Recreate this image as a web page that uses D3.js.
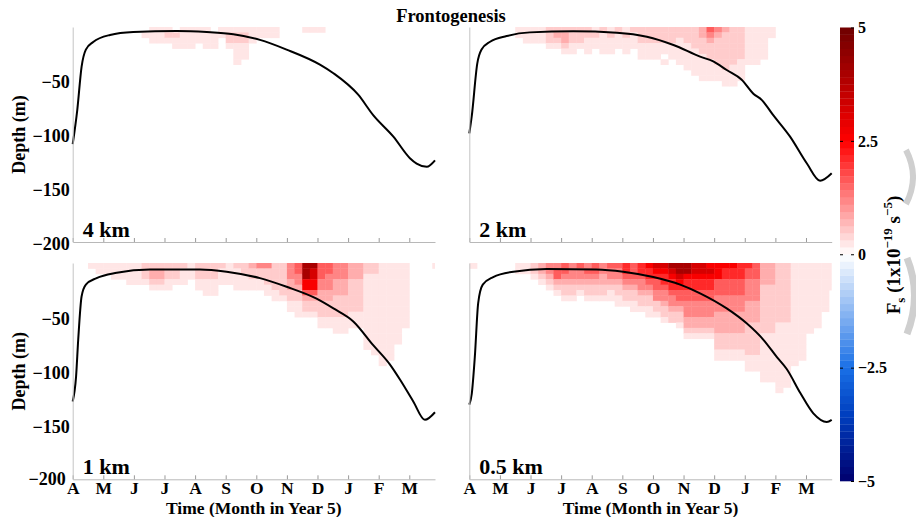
<!DOCTYPE html>
<html>
<head>
<meta charset="utf-8">
<script src="https://cdn.jsdelivr.net/npm/d3@7"></script>
<style>
body { margin: 0; background: #fff; }
svg text { font-family: "Liberation Serif", "Times New Roman", serif; font-weight: bold; fill: #000; }
</style>
</head>
<body>
<div id="fig"></div>
<script>
// ---- data ----
var monthLabels = ["A","M","J","J","A","S","O","N","D","J","F","M"];
var depthTicks = [-50, -100, -150, -200];
var cbarTicks = [5, 2.5, 0, -2.5, -5];
var panelNames = ["4 km", "2 km", "1 km", "0.5 km"];
// colour level of each character in the heat strings (x1e-19 s^-5)
var levelValues = [0, 0.25, 0.5, 0.8, 1.2, 1.6, 2.1, 2.6, 3.2, 4.0];
var cellMonths = 0.25;   // heat column width, months
var cellDepth = 5;       // heat row height, m

// mixed layer depth, time in months since 1 April
var mldTime4 = [0, 0.15, 0.29, 0.43, 0.67, 1.22, 1.98, 3.4, 4.38, 5.25, 6.12, 6.99, 8.08, 8.52, 9.33, 9.82, 10.48, 11.02, 11.24, 11.57, 11.84];
var mldDepth4 = [-109, -77, -37, -21, -14, -7.4, -4.7, -3.7, -4.7, -6.8, -12, -21, -35, -43, -63, -82, -102, -122, -127, -130, -124];
var mldTime2 = [0, 0.08, 0.26, 0.4, 0.68, 1.22, 1.98, 3.4, 4.82, 5.8, 6.67, 7.54, 7.97, 8.41, 8.9, 9.28, 9.56, 9.93, 10.48, 11.03, 11.46, 11.84];
var mldDepth2 = [-99, -83, -34, -21, -13.7, -8.4, -5, -4, -5.3, -9, -16.7, -27.6, -32, -40, -49, -62, -68, -82, -102, -127, -143, -136];
var mldTime1 = [0, 0.11, 0.18, 0.29, 0.43, 0.78, 1.44, 2.53, 4.16, 5.03, 6.12, 6.99, 7.97, 8.52, 9.17, 9.82, 10.37, 10.7, 11.13, 11.51, 11.84];
var mldDepth1 = [-128, -105, -71, -31, -20, -14, -9, -5.9, -5.9, -8, -14, -22, -33, -42, -54, -76, -94, -108, -128, -145, -138];
var mldTime05 = [0, 0.08, 0.18, 0.29, 0.44, 0.78, 1.44, 2.53, 4.16, 5.03, 6.01, 6.89, 7.54, 8.41, 9.07, 9.61, 10.05, 10.37, 10.81, 11.24, 11.68, 11.84];
var mldDepth05 = [-131, -121, -87, -37, -20, -13, -8, -5.6, -5.9, -8, -13, -20, -28, -42, -56, -71, -87, -98, -120, -139, -147, -145];

// frontogenesis, one string per quarter month column, one char per 5 m from the surface down
var heat4 = [
 "","","","",  "","","","",  "","01","111","111",  "121","0211","1111","1111",
 "111","1111","0111","11",  "1221","1221111","122111","111",  "11","11","11","",
 "","","1","1",  "1","","","",  "","","","",  "","","","",  "","","",""];
var heat2 = [
 "","","","",  "","","11","111",  "111","111","2221","2321",  "23321","22211","2221","22111",
 "1211","21111","12111","2111",  "12111","2111","222111","222111",  "222111","2221101","222111","2211111",
 "22211111","222211111","3322211111","5432221111",  "4322222111","32222222111","22222221111","2222221111",
 "1111111","1111111","111111","11",  "","","","",  "","","",""];
var heat1 = [
 "","","1","11",  "11","111","111","1111",  "1111","2221","23321","23321",  "22211","2221","2111","111",
 "22211","222111","222111","2111",  "1111","21111","22111","32211",  "42211","422211","2222211","2222221",
 "444332211","5544322111","9997753221","9887753221",  "555443322211","554443322211","4443332222111","4443332222111",
 "333222222111","333222222111","2211111111111111","22111111111111111",
 "1111111111111111111","111111111111111111","111111111111111","111111111111",  "","","","1"];
var heat05 = [
 "1","","","",  "","","11","11",  "221","3321","44321","455321",  "5543221","4443221","544321","4543221",
 "5543221","4433221","5443211","54432211",  "66543221","555432211","665443221","7665432211",
 "8765544221","87665443221","98766544322","998765543221",
 "99766554443321","88766554443321","88766554443321","78766554443321",
 "777555444333322211","766555444333322211","766555444333322211","666555444333322211",
 "65544443333222222111","55544443333222222111","3333222222222111111111","3333222222222111111111",
 "222222222221111111111111","22222222222111111111111","1111111111111111111","111111111111111111",
 "1111111111111","111111111111","111111111","11111"];

var heatData = [heat4, heat2, heat1, heat05];
var mldData = [[mldTime4, mldDepth4], [mldTime2, mldDepth2], [mldTime1, mldDepth1], [mldTime05, mldDepth05]];

// ---- layout ----
var W = 916, H = 517;
var panelBox = [
  {x0: 72.7, x1: 435, y0: 27, y1: 242, left: true, bottom: false},
  {x0: 469.3, x1: 831.7, y0: 27, y1: 242, left: false, bottom: false},
  {x0: 72.7, x1: 435, y0: 263, y1: 479.3, left: true, bottom: true},
  {x0: 469.3, x1: 831.7, y0: 263, y1: 479.3, left: false, bottom: true}];

var color = d3.scaleLinear()
  .domain([-5, -3.5, -2.5, 0, 2.5, 5])
  .range(["#00006e", "#0040c0", "#1a70e6", "#ffffff", "#ff0000", "#6e0000"])
  .clamp(true);

var minusFmt = function(d) { return String(d).replace("-", "\u2212"); };

var svg = d3.select("#fig").append("svg")
  .attr("width", W)
  .attr("height", H);

svg.append("text")
  .attr("x", 451).attr("y", 22)
  .attr("text-anchor", "middle")
  .style("font-size", "18.5px")
  .text("Frontogenesis");

panelBox.forEach(function(b, i) {
  var x = d3.scaleLinear().domain([0, 11.84]).range([b.x0, b.x1]);
  var y = d3.scaleLinear().domain([-200, 0]).range([b.y1, b.y0]);
  var g = svg.append("g");

  g.append("clipPath").attr("id", "clip" + i)
    .append("rect")
    .attr("x", b.x0).attr("y", b.y0)
    .attr("width", b.x1 - b.x0).attr("height", b.y1 - b.y0);

  // heat cells
  var cells = [];
  heatData[i].forEach(function(col, c) {
    for (var k = 0; k < col.length; k++) {
      var lev = +col[k];
      if (lev > 0) cells.push({t: c * cellMonths, d: -k * cellDepth, v: levelValues[lev]});
    }
  });
  g.append("g").attr("clip-path", "url(#clip" + i + ")")
    .selectAll("rect").data(cells).enter().append("rect")
    .attr("x", function(d) { return x(d.t); })
    .attr("y", function(d) { return y(d.d); })
    .attr("width", function(d) { return x(d.t + cellMonths) - x(d.t) + 0.4; })
    .attr("height", function(d) { return y(d.d - cellDepth) - y(d.d) + 0.4; })
    .attr("fill", function(d) { return color(d.v); });

  // mixed layer depth
  var pts = d3.zip(mldData[i][0], mldData[i][1]);
  var line = d3.line()
    .x(function(d) { return x(d[0]); })
    .y(function(d) { return y(d[1]); })
    .curve(d3.curveMonotoneX);
  g.append("path").datum(pts)
    .attr("d", line)
    .attr("fill", "none")
    .attr("stroke", "#000")
    .attr("stroke-width", 2);

  // bottom axis
  var xAxis = d3.axisBottom(x)
    .tickValues(d3.range(12))
    .tickSizeInner(-4).tickSizeOuter(0).tickPadding(2)
    .tickFormat(function(d, j) { return b.bottom ? monthLabels[j] : ""; });
  var gx = g.append("g").attr("transform", "translate(0," + b.y1 + ")").call(xAxis);
  gx.select(".domain").attr("stroke", "#b8b8b8");
  gx.selectAll(".tick line").attr("stroke", "#9a9a9a");
  gx.selectAll(".tick text").style("font-size", "17.5px").style("font-family", null);

  // left axis
  var yAxis = d3.axisLeft(y)
    .tickValues(b.left ? depthTicks : [])
    .tickFormat(minusFmt)
    .tickSize(0).tickPadding(3);
  var gy = g.append("g").attr("transform", "translate(" + b.x0 + ",0)").call(yAxis);
  gy.select(".domain").attr("stroke", "#c4c4c4");
  gy.selectAll(".tick text").style("font-size", "18px").style("font-family", null).attr("dy", "0.4em");
  if (b.bottom) {
    // keep the lowest label clear of the first month letter
    gy.selectAll(".tick text").filter(function(d) { return d === -200; })
      .attr("dx", -4).attr("dy", "0.3em");
  }

  if (b.left) {
    g.append("text")
      .attr("transform", "translate(25," + ((b.y0 + b.y1) / 2) + ") rotate(-90)")
      .attr("text-anchor", "middle")
      .style("font-size", "18px")
      .text("Depth (m)");
  }
  if (b.bottom) {
    g.append("text")
      .attr("x", (b.x0 + b.x1) / 2).attr("y", 514)
      .attr("text-anchor", "middle")
      .style("font-size", "17.5px")
      .text("Time (Month in Year 5)");
  }
  g.append("text")
    .attr("x", b.x0 + 10).attr("y", b.y1 - 5)
    .style("font-size", "22px")
    .text(panelNames[i]);
});

// ---- colour bar ----
var cb = d3.scaleLinear().domain([-5, 5]).range([481, 27.5]);
var nBands = 64;
var bandW = 10 / nBands;
var bands = d3.range(nBands).map(function(j) { return -5 + j * bandW; });
var gc = svg.append("g");
gc.selectAll("rect").data(bands).enter().append("rect")
  .attr("x", 840).attr("width", 14)
  .attr("y", function(d) { return cb(d + bandW); })
  .attr("height", function(d) { return cb(d) - cb(d + bandW) + 0.3; })
  .attr("fill", function(d) { return color(d + bandW / 2); });

var cbAxis = d3.axisRight(cb).tickValues(cbarTicks).tickFormat(minusFmt)
  .tickSizeInner(-3).tickSizeOuter(0).tickPadding(4);
var gca = gc.append("g").attr("transform", "translate(854,0)").call(cbAxis);
gca.select(".domain").remove();
gca.selectAll(".tick text").style("font-size", "16px").style("font-family", null);
var cbAxisL = d3.axisLeft(cb).tickValues([2.5, 0, -2.5]).tickSizeInner(-3).tickSizeOuter(0).tickFormat("");
var gcl = gc.append("g").attr("transform", "translate(840,0)").call(cbAxisL);
gcl.select(".domain").remove();

var lab = svg.append("text")
  .attr("transform", "translate(900,255) rotate(-90)")
  .attr("text-anchor", "middle")
  .style("font-size", "19px");
lab.append("tspan").text("F");
lab.append("tspan").attr("dy", 5).style("font-size", "13px").text("s");
lab.append("tspan").attr("dy", -5).text(" (1x10");
lab.append("tspan").attr("dy", -8).style("font-size", "13px").text("\u221219");
lab.append("tspan").attr("dy", 8).text(" s");
lab.append("tspan").attr("dy", -8).style("font-size", "13px").text("\u22125");
lab.append("tspan").attr("dy", 8).text(")");

// faint grey marks at the right edge of the scan
svg.append("path").attr("d", "M906,150 Q920,177 906,204")
  .attr("fill", "none").attr("stroke", "#cfcfcf").attr("stroke-width", 6);
svg.append("path").attr("d", "M907,258 Q922,295 907,334")
  .attr("fill", "none").attr("stroke", "#cfcfcf").attr("stroke-width", 7);
</script>
</body>
</html>
